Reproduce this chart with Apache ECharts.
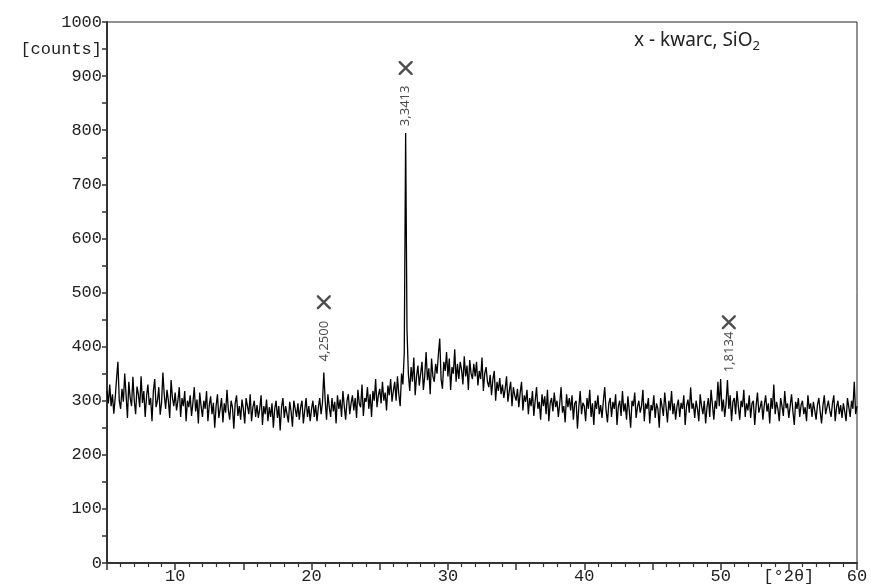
<!DOCTYPE html>
<html>
<head>
<meta charset="utf-8">
<script src="https://cdn.jsdelivr.net/npm/echarts@6/dist/echarts.min.js"></script>
<style>
  html, body { margin: 0; padding: 0; background: #fff; }
  #main { width: 871px; height: 587px; }
</style>
</head>
<body>
<div id="main"></div>
<script>
// XRD pattern, step 0.1 deg 2theta starting at 5
var startAngle = 5;
var stepAngle = 0.1;
var counts = [
  318,295,330,290,312,276,305,340,372,300, // 5
  285,322,298,350,310,268,335,305,290,344, // 6
  300,275,326,312,288,345,296,318,270,308, // 7
  330,292,305,262,318,340,288,300,325,274, // 8
  296,352,310,285,320,300,268,338,305,290, // 9
  315,282,300,325,270,305,290,318,262,300, // 10
  288,310,272,296,325,280,302,258,315,290, // 11
  270,300,285,318,262,292,308,275,296,250, // 12
  290,312,268,285,305,260,295,278,320,282, // 13
  265,300,288,248,295,310,272,290,265,302, // 14
  285,258,305,290,275,312,262,288,300,270, // 15
  292,268,285,310,255,290,275,302,262,288, // 16
  270,295,250,285,300,268,290,245,288,305, // 17
  268,290,275,260,298,280,252,300,285,270, // 18
  295,265,288,300,258,282,305,270,290,262, // 19
  285,300,270,292,262,288,305,275,296,352, // 20
  300,265,312,288,270,305,280,298,258,310, // 21
  285,302,270,318,290,265,300,312,275,295, // 22
  310,282,305,268,320,295,288,330,272,305, // 23
  298,325,285,312,270,318,300,340,288,310, // 24
  322,295,335,300,315,282,328,310,340,298, // 25
  318,335,300,345,312,290,350,330,390,795, // 26
  430,350,318,362,335,380,310,345,365,328, // 27
  350,372,320,345,390,338,360,312,378,345, // 28
  335,368,350,385,415,340,322,372,355,390, // 29
  345,378,320,362,350,395,335,368,340,372, // 30
  358,330,382,345,365,320,375,350,340,368, // 31
  345,372,328,355,340,380,318,350,362,335, // 32
  325,348,310,340,355,300,335,318,342,312, // 33
  330,305,322,345,298,318,335,290,325,310, // 34
  300,322,288,315,335,282,310,298,320,275, // 35
  305,290,318,272,300,325,285,298,265,312, // 36
  290,308,275,320,262,295,305,280,315,288, // 37
  300,270,295,325,278,290,260,312,288,305, // 38
  282,310,265,295,300,248,288,318,275,296, // 39
  290,262,305,285,320,270,295,255,300,285, // 40
  310,275,292,268,300,325,282,260,295,305, // 41
  270,298,285,312,255,290,300,272,318,280, // 42
  295,265,308,282,250,300,290,315,268,288, // 43
  300,278,290,320,262,295,285,305,258,292, // 44
  282,310,268,295,285,250,305,290,272,315, // 45
  288,260,300,282,318,275,295,265,290,302, // 46
  270,296,285,310,255,290,302,278,325,285, // 47
  295,268,300,285,262,312,290,275,300,258, // 48
  288,305,270,320,292,265,300,285,335,290, // 49
  340,280,302,270,295,338,285,310,262,298, // 50
  305,275,318,290,265,300,288,320,270,295, // 51
  282,310,268,295,300,255,290,315,278,288, // 52
  300,265,292,310,280,295,258,305,285,330, // 53
  275,298,285,262,305,290,272,318,286,295, // 54
  268,290,312,280,255,298,285,305,270,292, // 55
  300,275,288,262,310,285,295,270,298,282, // 56
  265,292,305,280,258,290,310,275,288,300, // 57
  282,270,295,310,262,288,300,275,292,268, // 58
  295,280,262,305,288,270,300,285,335,275, // 59
  290                                      // 60
];

// identified quartz reflections (2theta, d-spacing label)
var peakAngles = [20.9, 26.9, 50.6];
var peakLabels = ['4,2500', '3,3413', '1,8134'];
var markerCounts = [482, 915, 445];
var labelCounts = [410, 845, 390];

var seriesData = counts.map(function (c, i) {
  return [+(startAngle + i * stepAngle).toFixed(1), c];
});

var crossPath = 'path://M0,0L1.2,0L10,8.8L10,10L8.8,10L0,1.2Z M10,0L10,1.2L1.2,10L0,10L0,8.8L8.8,0Z';
var axisFont = 'Liberation Mono';

var chart = echarts.init(document.getElementById('main'));
chart.setOption({
  animation: false,
  backgroundColor: '#fff',
  grid: { left: 107, right: 14, top: 22, bottom: 24, show: true, borderColor: '#222', borderWidth: 1 },
  xAxis: {
    type: 'value', min: 5, max: 60, interval: 5,
    axisLine: { lineStyle: { color: '#333', width: 2 } },
    axisTick: { length: 7, lineStyle: { color: '#333', width: 1.5 } },
    minorTick: { show: true, splitNumber: 5, length: 4, lineStyle: { color: '#333', width: 1.2 } },
    splitLine: { show: false },
    axisLabel: {
      color: '#222', fontFamily: axisFont, fontSize: 17, margin: 5,
      formatter: function (v) {
        if (v === 55) return '[°2θ]';
        return v % 10 === 0 ? String(v) : '';
      }
    }
  },
  yAxis: {
    type: 'value', min: 0, max: 1000, interval: 50,
    axisLine: { show: true, lineStyle: { color: '#333', width: 2 } },
    axisTick: { show: true, length: 5, lineStyle: { color: '#333', width: 1.5 } },
    splitLine: { show: false },
    axisLabel: {
      color: '#222', fontFamily: axisFont, fontSize: 17, margin: 5,
      formatter: function (v) {
        if (v === 950) return '[counts]';
        return v % 100 === 0 ? String(v) : '';
      }
    }
  },
  series: [
    {
      type: 'line', data: seriesData, showSymbol: false, sampling: 'none',
      lineStyle: { color: '#000', width: 1.3 }, z: 2
    },
    {
      type: 'scatter', symbol: crossPath, symbolSize: 14,
      itemStyle: { color: '#222' },
      data: peakAngles.map(function (a, i) { return [a, markerCounts[i]]; }), z: 3
    },
    {
      type: 'scatter', symbolSize: 1, itemStyle: { color: 'rgba(0,0,0,0)' },
      label: {
        show: true, position: 'inside', rotate: 90, color: '#222',
        fontFamily: 'Noto Sans', fontSize: 13,
        formatter: function (p) { return peakLabels[p.dataIndex]; }
      },
      data: peakAngles.map(function (a, i) { return [a, labelCounts[i]]; }), z: 3
    }
  ],
  graphic: [{
    type: 'text', left: 634, top: 31,
    style: {
      text: 'x - kwarc, {s|SiO}{sub|2}',
      fill: '#222', font: '19px "Noto Sans"',
      rich: {
        s: { fontFamily: 'Noto Sans', fontSize: 19, fill: '#222' },
        sub: { fontFamily: 'Noto Sans', fontSize: 13, fill: '#222', padding: [11, 0, 0, 0] }
      }
    }
  }]
});
</script>
</body>
</html>
